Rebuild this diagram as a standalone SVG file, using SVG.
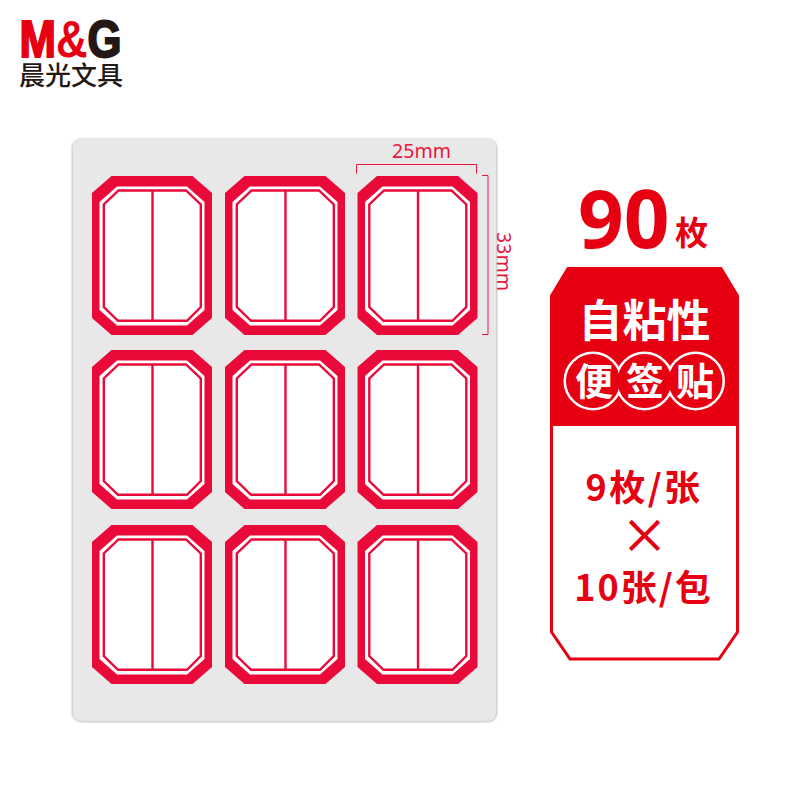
<svg xmlns="http://www.w3.org/2000/svg" width="800" height="800" viewBox="0 0 800 800">
<style>
.cjk{font-family:"Noto Sans CJK SC","Noto Sans",sans-serif;font-weight:700;fill:#e60012}
.cjkw{font-family:"Noto Sans CJK SC","Noto Sans",sans-serif;font-weight:700;fill:#fff}
.dim{font-family:"Noto Sans","Liberation Sans",sans-serif;font-size:19.500px;fill:#e8173c}
.dl{fill:none;stroke:#e8173c;stroke-width:1}
</style>
<defs>
<filter id="sh" x="-5%" y="-5%" width="110%" height="110%"><feGaussianBlur stdDeviation="1.2"/></filter>
<g id="tag">
<path d="M19.500 0H100.500L120 17V142L100.500 159H19.500L0 142V17Z" fill="#ea0a3a"/>
<path d="M25 10.500H95L112.500 26V134L95 149.500H25L7.500 134V26Z" fill="#fff"/>
<path d="M26.500 14.500H94L108.800 28.500V131L95 144.800H26L11.800 131V28.500Z" fill="#fff" stroke="#ea0a3a" stroke-width="2.400"/>
<path d="M60.500 14V145" stroke="#ea0a3a" stroke-width="2.400" fill="none"/>
</g>
</defs>
<rect width="800" height="800" fill="#fff"/>
<g id="logo">
<text x="19.500" y="57" font-family="Liberation Sans,Arial,sans-serif" font-weight="700" font-size="51" textLength="102" lengthAdjust="spacingAndGlyphs" stroke-width="2"><tspan fill="#e60012" stroke="#e60012">M</tspan><tspan fill="#e60012">&amp;</tspan><tspan fill="#231815" stroke="#231815">G</tspan></text>
<text x="19" y="85" font-family="Noto Sans CJK SC,sans-serif" font-weight="500" font-size="26" fill="#231815" textLength="104" lengthAdjust="spacingAndGlyphs">晨光文具</text>
</g>
<g id="sheet">
<rect x="72" y="139" width="425" height="583" rx="9" fill="#bbb" filter="url(#sh)"/>
<rect x="73" y="139" width="423" height="582" rx="8" fill="#e8e8e8"/>
</g>
<g id="tag1"><use href="#tag" x="92" y="176"/></g>
<g id="tag2"><use href="#tag" x="225" y="176"/></g>
<g id="tag3"><use href="#tag" x="357.500" y="176"/></g>
<g id="tag4"><use href="#tag" x="92" y="350"/></g>
<g id="tag5"><use href="#tag" x="225" y="350"/></g>
<g id="tag6"><use href="#tag" x="357.500" y="350"/></g>
<g id="tag7"><use href="#tag" x="92" y="525"/></g>
<g id="tag8"><use href="#tag" x="225" y="525"/></g>
<g id="tag9"><use href="#tag" x="357.500" y="525"/></g>
<g id="dimensions">
<path class="dl" d="M356.500 173.500V164.500H476.500V173.500M482 175.500H488V334.500H482"/>
<text class="dim" x="421.500" y="158" text-anchor="middle">25mm</text>
<text class="dim" transform="translate(497 261.500) rotate(90)" text-anchor="middle">33mm</text>
</g>
<g id="count">
<text x="578" y="248" font-family="Noto Sans,sans-serif" font-weight="700" font-size="80" fill="#e60012">90</text>
<text class="cjk" x="675" y="245" font-size="33">枚</text>
</g>
<g id="panel">
<path d="M568 268.500H721L737.500 296V632L719 659H570L551.500 632V296Z" fill="#fff" stroke="#e60012" stroke-width="3"/>
<path d="M568 267H721L739 296V426H550V296Z" fill="#e60012"/>
<text class="cjkw" x="644.500" y="337" font-size="44" text-anchor="middle">自粘性</text>
<g fill="#e60012" stroke="#fff" stroke-width="3">
<circle cx="593" cy="381" r="28"/><circle cx="644.500" cy="381" r="28"/><circle cx="695.500" cy="381" r="28"/>
</g>
<g fill="#e60012">
<circle cx="593" cy="381" r="27"/><circle cx="644.500" cy="381" r="27"/><circle cx="695.500" cy="381" r="27"/>
</g>
<text class="cjkw" x="594" y="395" font-size="38" text-anchor="middle">便</text>
<text class="cjkw" x="645" y="395" font-size="38" text-anchor="middle">签</text>
<text class="cjkw" x="695" y="395" font-size="38" text-anchor="middle">贴</text>
<text class="cjk" x="644" y="501" font-size="36" text-anchor="middle" letter-spacing="2.500">9枚/张</text>
<text class="cjk" style="font-weight:500" x="644.500" y="553" font-size="48" text-anchor="middle">×</text>
<text class="cjk" x="643.500" y="601" font-size="36" text-anchor="middle" letter-spacing="2">10张/包</text>
</g>
</svg>
